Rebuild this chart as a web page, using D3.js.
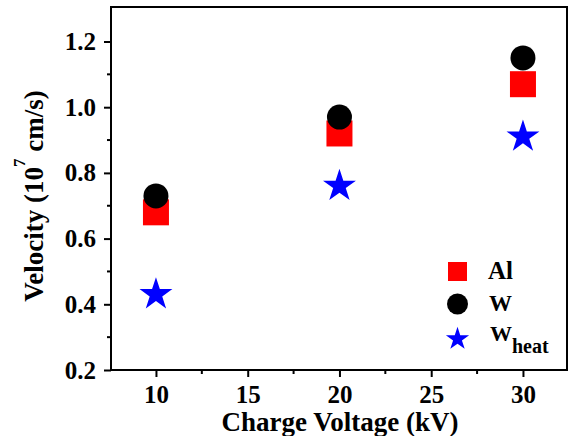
<!DOCTYPE html>
<html>
<head>
<meta charset="utf-8">
<script src="https://cdn.jsdelivr.net/npm/d3@7"></script>
<style>
  html, body { margin: 0; padding: 0; background: #fff; }
  svg { display: block; }
  text { font-family: "Liberation Serif", "Times New Roman", serif; font-weight: bold; fill: #000; }
</style>
</head>
<body>
<svg id="chart" width="569" height="436"></svg>
<script>
// Charge voltage (kV) at which each projectile was measured
const voltages = [10, 20, 30];
// Velocities in units of 10^7 cm/s
const velAl = [0.68, 0.92, 1.07];
const velW = [0.73, 0.97, 1.15];
const velWheat = [0.43, 0.76, 0.91];

const xTicks = [10, 15, 20, 25, 30];
const yTicks = [0.2, 0.4, 0.6, 0.8, 1.0, 1.2];

const svg = d3.select("#chart");
const m = { left: 111, right: 567, top: 7, bottom: 370 };

const x = d3.scaleLinear().domain([7.55, 32.4]).range([m.left, m.right]);
const y = d3.scaleLinear().domain([0.2, 1.305]).range([m.bottom, m.top]);

// frame
svg.append("rect")
  .attr("x", m.left).attr("y", m.top)
  .attr("width", m.right - m.left).attr("height", m.bottom - m.top)
  .attr("fill", "none").attr("stroke", "#000").attr("stroke-width", 2);

// minor ticks
const xMinor = d3.range(7.5, 32.5, 2.5).filter(v => v > 7.55 && xTicks.indexOf(v) < 0);
const yMinor = d3.range(0.3, 1.3, 0.2);
svg.append("g").selectAll("line").data(xMinor).join("line")
  .attr("x1", d => x(d)).attr("x2", d => x(d))
  .attr("y1", m.bottom).attr("y2", m.bottom + 4)
  .attr("stroke", "#000").attr("stroke-width", 2);
svg.append("g").selectAll("line").data(yMinor).join("line")
  .attr("y1", d => y(d)).attr("y2", d => y(d))
  .attr("x1", m.left).attr("x2", m.left - 4)
  .attr("stroke", "#000").attr("stroke-width", 2);

// major axes
const xAxis = svg.append("g")
  .attr("transform", `translate(0,${m.bottom})`)
  .call(d3.axisBottom(x).tickValues(xTicks).tickSize(7).tickPadding(8).tickFormat(d3.format("d")));
const yAxis = svg.append("g")
  .attr("transform", `translate(${m.left},0)`)
  .call(d3.axisLeft(y).tickValues(yTicks).tickSize(7).tickPadding(8).tickFormat(d3.format(".1f")));
[xAxis, yAxis].forEach(g => {
  g.select(".domain").remove();
  g.selectAll(".tick line").attr("stroke", "#000").attr("stroke-width", 2);
  g.selectAll(".tick text").style("font-size", "25px").style("font-family", "Liberation Serif").style("font-weight", "bold").attr("fill", "#000");
});

// axis titles
svg.append("text")
  .attr("x", 340).attr("y", 431)
  .attr("text-anchor", "middle").style("font-size", "27px")
  .text("Charge Voltage (kV)");

const yt = svg.append("text")
  .attr("transform", "translate(43,196) rotate(-90)")
  .attr("text-anchor", "middle").style("font-size", "27px");
yt.append("tspan").text("Velocity (10");
yt.append("tspan").attr("dy", -18).style("font-size", "17px").text("7");
yt.append("tspan").attr("dy", 18).text(" cm/s)");

const pts = arr => voltages.map((v, i) => ({ v, val: arr[i] }));

// Al: red squares
const sq = 26;
svg.append("g").selectAll("rect").data(pts(velAl)).join("rect")
  .attr("x", d => x(d.v) - sq / 2).attr("y", d => y(d.val) - sq / 2)
  .attr("width", sq).attr("height", sq).attr("fill", "#ff0000");

// W: black circles
svg.append("g").selectAll("circle").data(pts(velW)).join("circle")
  .attr("cx", d => x(d.v)).attr("cy", d => y(d.val)).attr("r", 12.5)
  .attr("fill", "#000");

// W heat: blue stars
const star = d3.symbol(d3.symbolStar, 17.3 * 17.3 / 0.8908130915292852);
svg.append("g").selectAll("path").data(pts(velWheat)).join("path")
  .attr("transform", d => `translate(${x(d.v)},${y(d.val)})`)
  .attr("d", star).attr("fill", "#0000ff");

// legend
const lg = svg.append("g");
lg.append("rect").attr("x", 448).attr("y", 262).attr("width", 19).attr("height", 19).attr("fill", "#ff0000");
lg.append("circle").attr("cx", 457.5).attr("cy", 304).attr("r", 10.5).attr("fill", "#000");
lg.append("path").attr("transform", "translate(457.5,339)")
  .attr("d", d3.symbol(d3.symbolStar, 12.2 * 12.2 / 0.8908130915292852)).attr("fill", "#0000ff");
lg.append("text").attr("x", 488).attr("y", 279).style("font-size", "25px").text("Al");
lg.append("text").attr("x", 489).attr("y", 311).style("font-size", "23px").text("W");
const wh = lg.append("text").attr("x", 490).attr("y", 341).style("font-size", "22px");
wh.append("tspan").text("W");
wh.append("tspan").attr("dy", 12).style("font-size", "20px").text("heat");
</script>
</body>
</html>
